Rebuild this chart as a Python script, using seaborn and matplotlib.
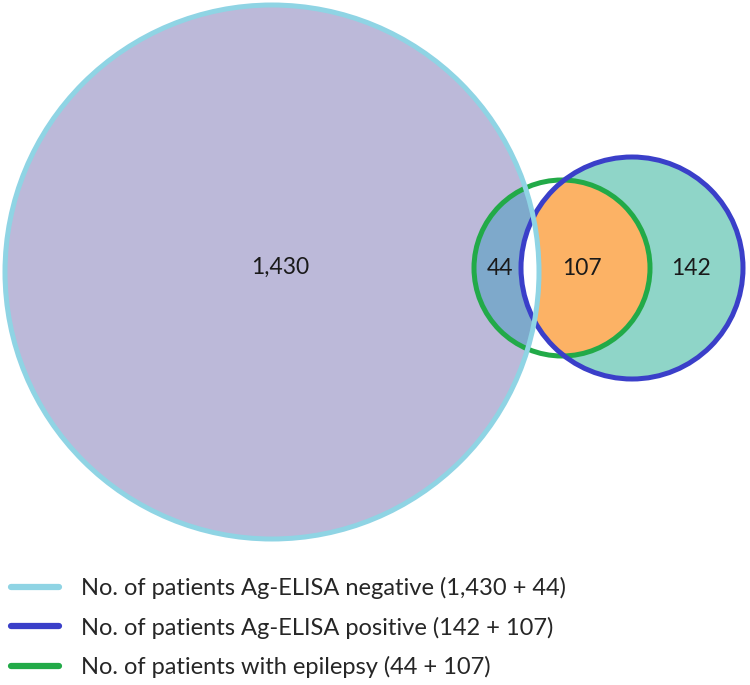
import numpy as np
import matplotlib.pyplot as plt
import seaborn as sns
from matplotlib.patches import Circle
from matplotlib.lines import Line2D

sns.set_style("white")
plt.rcParams['font.family'] = ['Lato', 'DejaVu Sans']

# region counts
only_neg = 1430
neg_epi = 44
pos_epi = 107
only_pos = 142

set_names = ["No. of patients Ag-ELISA negative", "No. of patients Ag-ELISA positive",
             "No. of patients with epilepsy"]
set_parts = [[only_neg, neg_epi], [only_pos, pos_epi], [neg_epi, pos_epi]]

edge_cols = ["#8fd4e4", "#3a3fc9", "#22aa48"]
fill_neg = "#bcb9d9"
fill_pos = "#8fd5c8"
fill_pos_epi = "#fcb265"
fill_neg_epi = "#7ea9cb"

# layout in pixel units
centers = [(272, 272), (632, 268), (562, 268)]
radii = [267, 111, 88]

fig = plt.figure(figsize=(7.5, 6.85), dpi=100)
ax = fig.add_axes([0, 0, 1, 1])
ax.set_xlim(0, 750)
ax.set_ylim(685, 0)
ax.set_aspect("equal")
ax.axis("off")


def circ(i, **kw):
    return Circle(centers[i], radii[i], **kw)


big = ax.add_patch(circ(0, facecolor=fill_neg, edgecolor="none"))
pos = ax.add_patch(circ(1, facecolor=fill_pos, edgecolor="none"))
ax.add_patch(circ(2, facecolor="white", edgecolor="none"))
p = ax.add_patch(circ(2, facecolor=fill_pos_epi, edgecolor="none"))
p.set_clip_path(pos)
p = ax.add_patch(circ(2, facecolor=fill_neg_epi, edgecolor="none"))
p.set_clip_path(big)
p = ax.add_patch(circ(0, facecolor="white", edgecolor="none"))
p.set_clip_path(pos)

for i in [2, 1, 0]:
    ax.add_patch(circ(i, facecolor="none", edgecolor=edge_cols[i], lw=3.6))

# region labels
lab_pos = [(280, 267), (500, 268), (582, 268), (691, 268)]
for (x, y), n in zip(lab_pos, [only_neg, neg_epi, pos_epi, only_pos]):
    ax.text(x, y, f"{n:,}", ha="center", va="center", fontsize=16.5, color="#1a1a1a")

handles = [Line2D([0], [0], color=c, lw=4.5, solid_capstyle="round") for c in edge_cols]
labels = [f"{nm} ({a:,} + {b:,})" for nm, (a, b) in zip(set_names, set_parts)]
ax.legend(handles, labels, loc="upper left", bbox_to_anchor=(11 / 750, 1 - 577 / 685),
          frameon=False, fontsize=17, handlelength=2.03, handletextpad=0.95,
          labelspacing=0.74, borderpad=0, borderaxespad=0)

plt.savefig("out.png", dpi=100)
